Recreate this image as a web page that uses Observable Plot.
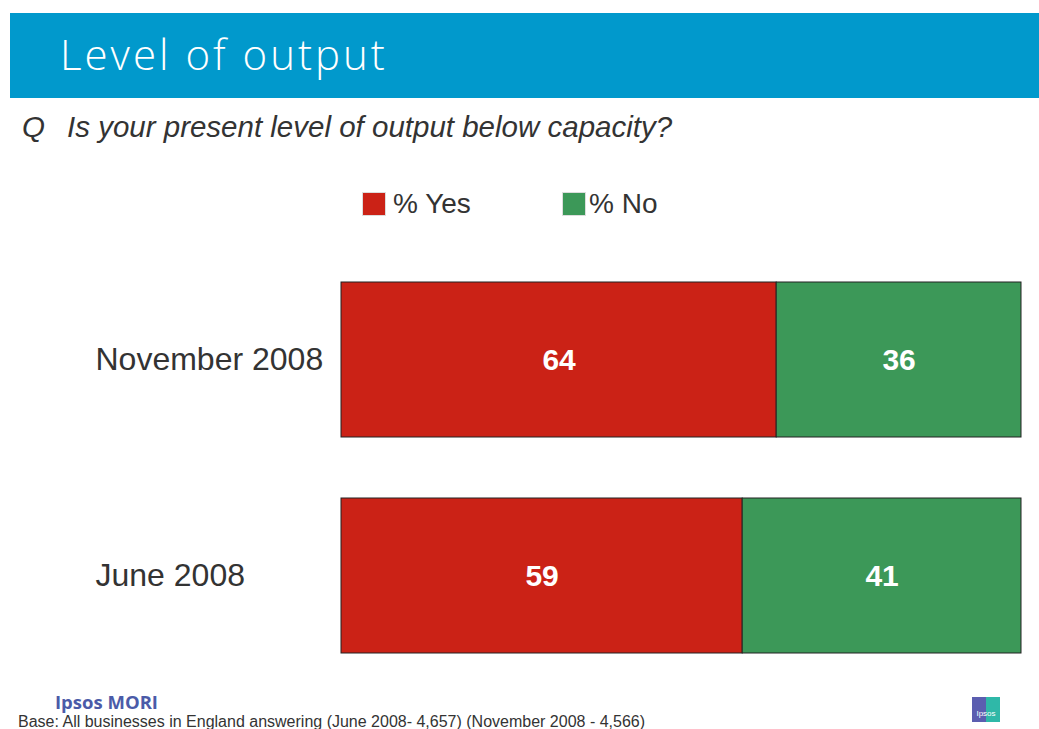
<!DOCTYPE html>
<html>
<head>
<meta charset="utf-8">
<script src="https://cdn.jsdelivr.net/npm/d3@7"></script>
<script src="https://cdn.jsdelivr.net/npm/@observablehq/plot@0.6"></script>
<style>
  html, body { margin: 0; padding: 0; background: #fff; }
  #page { position: relative; width: 1039px; height: 729px; overflow: hidden; font-family: "Liberation Sans", Arial, sans-serif; }
  #banner { position: absolute; left: 10px; top: 13px; width: 1029px; height: 85px; background: #0199CC; }
  #title { position: absolute; left: 60px; top: 33px; color: #fff; font-family: "Open Sans", sans-serif; font-weight: 300; font-size: 42px; letter-spacing: 3px; line-height: 42px; white-space: nowrap; }
  #question { position: absolute; left: 22px; top: 112px; color: #333; font-style: italic; font-size: 29.5px; line-height: 29px; white-space: nowrap; }
  #question .q { display: inline-block; width: 45px; }
  .legend { position: absolute; top: 190px; font-size: 28px; color: #333; white-space: nowrap; line-height: 28px; }
  .legend .sw { position: absolute; left: 0; top: 2px; width: 22px; height: 22px; border: 1px solid #ddd; }
  .legend .lt { position: absolute; top: 0; }
  #chart { position: absolute; left: 0; top: 221px; }
  #brand { position: absolute; left: 55px; top: 695px; color: #4B5BA8; font-weight: bold; font-size: 18.5px; line-height: 14px; font-family: "Open Sans", sans-serif; }
  #base { position: absolute; left: 18px; top: 714px; color: #333; font-size: 16px; line-height: 15px; white-space: nowrap; }
  #logo { position: absolute; left: 972px; top: 697px; width: 28px; height: 25px; background: linear-gradient(90deg, #5B5EB0 50%, #2FB8A8 50%); color: #fff; font-size: 8px; text-align: center; line-height: 34px; }
</style>
</head>
<body>
<div id="page">
  <div id="banner"></div>
  <div id="title">Level of output</div>
  <div id="question"><span class="q">Q</span>Is your present level of output below capacity?</div>
  <div id="legend"></div>
  <div id="chart"></div>
  <div id="brand">Ipsos MORI</div>
  <div id="base">Base: All businesses in England answering (June 2008- 4,657) (November 2008 - 4,566)</div>
  <div id="logo">Ipsos</div>
</div>
<script>
const periods = ["November 2008", "June 2008"];
const yesValues = [64, 59];
const noValues = [36, 41];
const seriesNames = ["% Yes", "% No"];
const seriesColors = ["#CB2216", "#3C9858"];

const data = [];
periods.forEach((p, i) => {
  data.push({period: p, series: seriesNames[0], value: yesValues[i]});
  data.push({period: p, series: seriesNames[1], value: noValues[i]});
});

// legend
const legendX = [362, 562];
const legendTextDx = [31, 27];
seriesNames.forEach((s, i) => {
  const d = document.createElement("div");
  d.className = "legend";
  d.style.left = legendX[i] + "px";
  d.innerHTML = `<span class="sw" style="background:${seriesColors[i]}"></span><span class="lt" style="left:${legendTextDx[i]}px">${s}</span>`;
  document.getElementById("legend").appendChild(d);
});

const chart = Plot.plot({
  width: 1039,
  height: 493,
  marginLeft: 341,
  marginRight: 18,
  marginTop: 0,
  marginBottom: 0,
  x: {domain: [0, 100], axis: null},
  y: {domain: periods, padding: 0.282, axis: null},
  color: {domain: seriesNames, range: seriesColors},
  style: {fontFamily: "Liberation Sans, Arial, sans-serif", background: "transparent"},
  marks: [
    Plot.barX(data, Plot.stackX({x: "value", y: "period", fill: "series", stroke: "#222", strokeWidth: 1, order: seriesNames})),
    Plot.text(data, Plot.stackX({x: "value", y: "period", z: "series", text: d => String(d.value), fill: "white", fontSize: 30, fontWeight: "bold", order: seriesNames})),
    Plot.text(periods, {y: d => d, text: d => d, frameAnchor: "left", textAnchor: "start", dx: -246, fontSize: 32, fill: "#333"})
  ]
});
document.getElementById("chart").appendChild(chart);
</script>
</body>
</html>
